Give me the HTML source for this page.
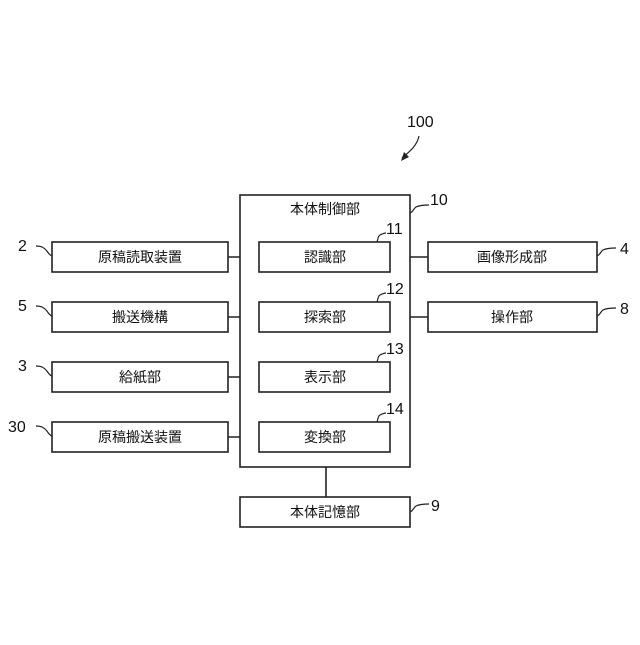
<!DOCTYPE html>
<html><head><meta charset="utf-8"><style>html,body{margin:0;padding:0;background:#fff}</style></head>
<body>
<svg width="640" height="640" viewBox="0 0 640 640" xmlns="http://www.w3.org/2000/svg" font-family="'Liberation Sans','Noto Sans CJK JP',sans-serif">
<g fill="none" stroke="#222" stroke-width="1.6">
<rect x="240" y="195" width="170" height="272"/>
<rect x="52" y="242" width="176" height="30"/>
<rect x="52" y="302" width="176" height="30"/>
<rect x="52" y="362" width="176" height="30"/>
<rect x="52" y="422" width="176" height="30"/>
<rect x="259" y="242" width="131" height="30"/>
<rect x="259" y="302" width="131" height="30"/>
<rect x="259" y="362" width="131" height="30"/>
<rect x="259" y="422" width="131" height="30"/>
<rect x="428" y="242" width="169" height="30"/>
<rect x="428" y="302" width="169" height="30"/>
<rect x="240" y="497" width="170" height="30"/>
<path d="M228 257H240M228 317H240M228 377H240M228 437H240M410 257H428M410 317H428M326 467V497"/>
<g stroke-width="1.2">
<path d="M36 246c6 0 8 2 10 4s3 5 6 6"/>
<path d="M36 306c6 0 8 2 10 4s3 5 6 6"/>
<path d="M36 366c6 0 8 2 10 4s3 5 6 6"/>
<path d="M36 426c6 0 8 2 10 4s3 5 6 6"/>
<path d="M410 213c3-1 4-5 6-6s5-2 13-2"/>
<path d="M377 242c1-3 1-6 3-7s4-2 6-2"/>
<path d="M377 302c1-3 1-6 3-7s4-2 6-2"/>
<path d="M377 362c1-3 1-6 3-7s4-2 6-2"/>
<path d="M377 422c1-3 1-6 3-7s4-2 6-2"/>
<path d="M597 256c3-1 4-5 6-6s5-2 13-2"/>
<path d="M597 316c3-1 4-5 6-6s5-2 13-2"/>
<path d="M410 512c3-1 4-5 6-6s5-2 13-2"/>
<path d="M419 136c-2 10-10 16-17 22"/>
</g>
</g>
<path d="M401 161l3-9 5 5z" fill="#222"/>
<g font-size="14" fill="#111" text-anchor="middle">
<text x="325" y="214">本体制御部</text>
<text x="140" y="262">原稿読取装置</text>
<text x="140" y="322">搬送機構</text>
<text x="140" y="382">給紙部</text>
<text x="140" y="442">原稿搬送装置</text>
<text x="325" y="262">認識部</text>
<text x="325" y="322">探索部</text>
<text x="325" y="382">表示部</text>
<text x="325" y="442">変換部</text>
<text x="512" y="262">画像形成部</text>
<text x="512" y="322">操作部</text>
<text x="325" y="517">本体記憶部</text>
</g>
<g font-size="16" fill="#111">
<text x="18" y="251">2</text>
<text x="18" y="311">5</text>
<text x="18" y="371">3</text>
<text x="8" y="432">30</text>
<text x="430" y="205">10</text>
<text x="386" y="234">11</text>
<text x="386" y="294">12</text>
<text x="386" y="354">13</text>
<text x="386" y="414">14</text>
<text x="620" y="254">4</text>
<text x="620" y="314">8</text>
<text x="431" y="511">9</text>
<text x="407" y="127">100</text>
</g>
</svg>
</body></html>
